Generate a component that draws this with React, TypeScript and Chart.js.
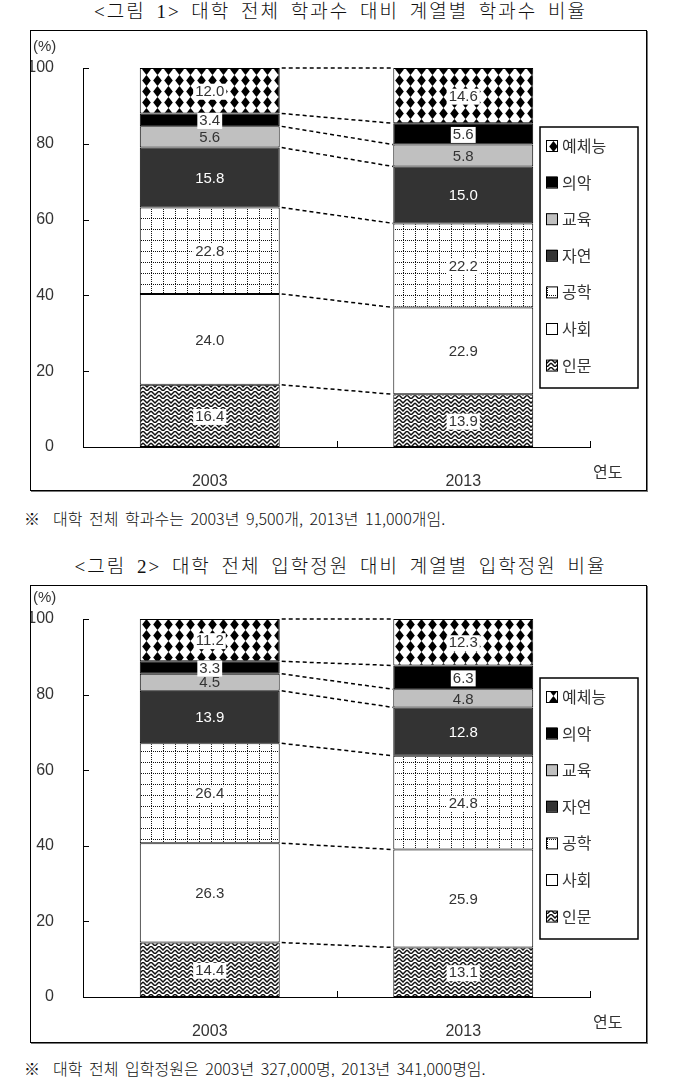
import React, { useEffect, useRef } from 'react';
import { Chart, registerables } from 'chart.js';

Chart.register(...registerables);

// ----- data -----
const years = ['2003', '2013'];
// stacking order, bottom to top
const fields = ['인문', '사회', '공학', '자연', '교육', '의악', '예체능'];
const legendOrder = ['예체능', '의악', '교육', '자연', '공학', '사회', '인문'];
const yTicks = [0, 20, 40, 60, 80, 100];

// <그림 1> 학과수 비율 (%)
const dept2003 = [16.4, 24.0, 22.8, 15.8, 5.6, 3.4, 12.0];
const dept2013 = [13.9, 22.9, 22.2, 15.0, 5.8, 5.6, 14.6];

// <그림 2> 입학정원 비율 (%)
const quota2003 = [14.4, 26.3, 26.4, 13.9, 4.5, 3.3, 11.2];
const quota2013 = [13.1, 25.9, 24.8, 12.8, 4.8, 6.3, 12.3];

const SANS = '"Liberation Sans", Arial, sans-serif';
const KR = '"Noto Sans CJK KR", "Liberation Sans", sans-serif';

// fill kind per field (same order as fields)
const fillKinds = ['weave', 'plain', 'grid', 'dark', 'gray', 'black', 'diamond'];
// labels that sit on a white box
const boxedKinds = ['weave', 'grid', 'black', 'diamond'];

const makeFill = (kind: string): CanvasPattern | string => {
  if (kind === 'plain') return '#ffffff';
  if (kind === 'dark') return '#333333';
  if (kind === 'gray') return '#c0c0c0';
  if (kind === 'black') return '#000000';
  const c = document.createElement('canvas');
  const g = c.getContext('2d')!;
  if (kind === 'diamond') {
    c.width = 11;
    c.height = 11;
    g.fillStyle = '#fff';
    g.fillRect(0, 0, 11, 11);
    g.fillStyle = '#000';
    g.beginPath();
    g.moveTo(5.5, 0);
    g.lineTo(9.8, 5.5);
    g.lineTo(5.5, 11);
    g.lineTo(1.2, 5.5);
    g.closePath();
    g.fill();
  } else if (kind === 'grid') {
    c.width = 12;
    c.height = 11;
    g.fillStyle = '#fff';
    g.fillRect(0, 0, 12, 11);
    g.fillStyle = '#111';
    for (let y = 0; y < 11; y += 2) g.fillRect(0, y, 1, 1);
    for (let x = 0; x < 12; x += 2) g.fillRect(x, 0, 1, 1);
  } else {
    // woven / herringbone look
    c.width = 8;
    c.height = 8;
    g.fillStyle = '#fff';
    g.fillRect(0, 0, 8, 8);
    g.strokeStyle = '#111';
    g.lineWidth = 1.5;
    g.beginPath();
    g.moveTo(0, 0);
    g.lineTo(4, 4);
    g.lineTo(8, 0);
    g.moveTo(0, 4);
    g.lineTo(4, 8);
    g.lineTo(8, 4);
    g.stroke();
  }
  return g.createPattern(c, 'repeat') || '#888';
};

interface ChartProps {
  first: number[];
  second: number[];
  width: number;
  height: number;
  plotTop: number;
  xAxisHeight: number;
}

const StackedChart: React.FC<ChartProps> = ({ first, second, width, height, plotTop, xAxisHeight }) => {
  const canvasRef = useRef<HTMLCanvasElement>(null);

  useEffect(() => {
    if (!canvasRef.current) return;
    const fills = fillKinds.map(makeFill);

    const datasets = fields.map((name, i) => ({
      label: name,
      data: [first[i], second[i]],
      backgroundColor: fills[i],
      borderColor: '#000',
      borderWidth: 1,
      borderSkipped: false as const,
      barPercentage: 0.552,
      categoryPercentage: 1,
    }));

    // dashed lines joining segment tops of the two bars
    const connectors = {
      id: 'connectors',
      afterDatasetsDraw(chart: any) {
        const ctx = chart.ctx;
        ctx.save();
        ctx.strokeStyle = '#000';
        ctx.lineWidth = 1.5;
        ctx.setLineDash([4, 3]);
        chart.data.datasets.forEach((_: any, i: number) => {
          const meta = chart.getDatasetMeta(i);
          const a = meta.data[0];
          const b = meta.data[1];
          ctx.beginPath();
          ctx.moveTo(a.x + a.width / 2 + 2, a.y);
          ctx.lineTo(b.x - b.width / 2, b.y);
          ctx.stroke();
        });
        ctx.restore();
      },
    };

    const valueLabels = {
      id: 'valueLabels',
      afterDatasetsDraw(chart: any) {
        const ctx = chart.ctx;
        ctx.save();
        ctx.font = `15px ${SANS}`;
        ctx.textAlign = 'center';
        ctx.textBaseline = 'middle';
        chart.data.datasets.forEach((ds: any, i: number) => {
          const meta = chart.getDatasetMeta(i);
          meta.data.forEach((el: any, j: number) => {
            const text = Number(ds.data[j]).toFixed(1);
            const cy = (el.y + el.base) / 2 + 1;
            const w = ctx.measureText(text).width;
            if (boxedKinds.includes(fillKinds[i])) {
              ctx.fillStyle = '#fff';
              ctx.fillRect(el.x - w / 2 - 2, cy - 8, w + 4, 16);
            }
            ctx.fillStyle = fillKinds[i] === 'dark' ? '#fff' : '#333';
            ctx.fillText(text, el.x, cy);
          });
        });
        ctx.restore();
      },
    };

    const decorations = {
      id: 'decorations',
      afterDraw(chart: any) {
        const ctx = chart.ctx;
        const { top, bottom, left } = chart.chartArea;
        const xs = chart.scales.x;
        const ys = chart.scales.y;
        ctx.save();
        // inward tick marks
        ctx.strokeStyle = '#000';
        ctx.lineWidth = 1;
        yTicks.forEach(v => {
          const y = Math.round(ys.getPixelForValue(v)) + 0.5;
          ctx.beginPath();
          ctx.moveTo(left, y);
          ctx.lineTo(left + 6, y);
          ctx.stroke();
        });
        const mid = (xs.getPixelForValue(0) + xs.getPixelForValue(1)) / 2;
        [mid, xs.right].forEach(x => {
          const px = Math.round(x) + 0.5;
          ctx.beginPath();
          ctx.moveTo(px, bottom);
          ctx.lineTo(px, bottom - 6);
          ctx.stroke();
        });
        // unit and axis name
        ctx.fillStyle = '#333';
        ctx.font = `15px ${SANS}`;
        ctx.textBaseline = 'middle';
        ctx.textAlign = 'left';
        ctx.fillText('(%)', 2, top - 21);
        ctx.font = `16px ${KR}`;
        ctx.fillText('연도', 562, bottom + 25);

        // legend
        const bx = 509;
        const by = top + 59;
        ctx.lineWidth = 1.5;
        ctx.strokeRect(bx, by, 98, 261);
        ctx.lineWidth = 1;
        ctx.font = `16px ${KR}`;
        legendOrder.forEach((name, k) => {
          const idx = fields.indexOf(name);
          const cy = by + 19 + k * 36.6;
          ctx.fillStyle = chart.data.datasets[idx].backgroundColor;
          ctx.fillRect(515, cy - 6, 11, 11);
          ctx.strokeStyle = '#000';
          ctx.strokeRect(515.5, cy - 5.5, 11, 11);
          ctx.fillStyle = '#333';
          ctx.fillText(name, 531, cy);
        });
        ctx.restore();
      },
    };

    const chart = new Chart(canvasRef.current, {
      type: 'bar',
      data: { labels: years, datasets },
      options: {
        responsive: false,
        animation: false,
        events: [],
        layout: { padding: { top: plotTop, right: 56, left: 0, bottom: 0 } },
        scales: {
          x: {
            stacked: true,
            grid: { display: false },
            border: { display: true, color: '#000', width: 1 },
            ticks: { color: '#333', font: { size: 16, family: SANS }, padding: 17 },
            afterFit: (s: any) => {
              s.height = xAxisHeight;
            },
          },
          y: {
            stacked: true,
            min: 0,
            max: 100,
            grid: { display: false },
            border: { display: true, color: '#000', width: 1 },
            ticks: { stepSize: 20, color: '#333', font: { size: 16, family: SANS }, padding: 21 },
            afterFit: (s: any) => {
              s.width = 52;
            },
          },
        },
        plugins: {
          legend: { display: false },
          tooltip: { enabled: false },
        },
      },
      plugins: [connectors, valueLabels, decorations],
    });

    return () => chart.destroy();
  }, [first, second, plotTop, xAxisHeight]);

  return <canvas ref={canvasRef} width={width} height={height} style={{ width, height, display: 'block' }} />;
};

const titleStyle = (top: number): React.CSSProperties => ({
  position: 'absolute',
  left: 0,
  top,
  width: 681,
  textAlign: 'center',
  fontFamily: '"Liberation Serif", "Noto Sans CJK KR", serif',
  fontSize: 19,
  fontWeight: 300,
  lineHeight: '24px',
  letterSpacing: 2,
  wordSpacing: 4,
  color: '#111',
  whiteSpace: 'nowrap',
});

const noteStyle = (top: number): React.CSSProperties => ({
  position: 'absolute',
  left: 24,
  top,
  fontFamily: KR,
  fontSize: 16,
  fontWeight: 300,
  lineHeight: '20px',
  wordSpacing: 3,
  color: '#111',
  whiteSpace: 'pre',
});

const boxStyle = (top: number, height: number): React.CSSProperties => ({
  position: 'absolute',
  left: 30,
  top,
  width: 617,
  height,
  border: '1px solid #000',
  boxSizing: 'border-box',
  boxShadow: '1px 1px 0 #777',
});

const App: React.FC = () => (
  <div style={{ position: 'absolute', left: 0, top: 0, width: 681, height: 1077, background: '#fff', overflow: 'hidden' }}>
    <div style={titleStyle(0)}>&lt;그림 1&gt; 대학 전체 학과수 대비 계열별 학과수 비율</div>
    <div style={boxStyle(30, 461)}>
      <StackedChart first={dept2003} second={dept2013} width={615} height={459} plotTop={37} xAxisHeight={43} />
    </div>
    <div style={noteStyle(508)}>{'※  대학 전체 학과수는 2003년 9,500개, 2013년 11,000개임.'}</div>

    <div style={titleStyle(555)}>&lt;그림 2&gt; 대학 전체 입학정원 대비 계열별 입학정원 비율</div>
    <div style={boxStyle(585, 458)}>
      <StackedChart first={quota2003} second={quota2013} width={615} height={456} plotTop={33} xAxisHeight={45} />
    </div>
    <div style={noteStyle(1058)}>{'※  대학 전체 입학정원은 2003년 327,000명, 2013년 341,000명임.'}</div>
  </div>
);

export default App;
